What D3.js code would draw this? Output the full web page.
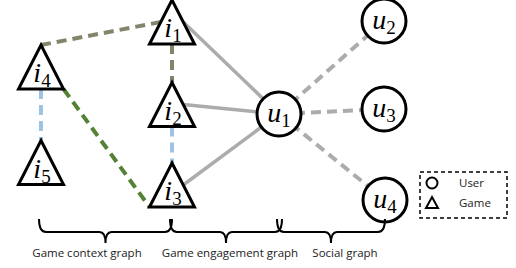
<!DOCTYPE html>
<html>
<head>
<meta charset="utf-8">
<script src="https://cdn.jsdelivr.net/npm/d3@7"></script>
<style>
  html, body { margin: 0; padding: 0; background: #fff; }
  svg { display: block; }
</style>
</head>
<body>
<svg id="chart" width="516" height="268"></svg>
<script>
// nodes of the graph
const nodeIds   = ['i1', 'i2', 'i3', 'i4', 'i5', 'u1', 'u2', 'u3', 'u4'];
const nodeKinds = ['game', 'game', 'game', 'game', 'game', 'user', 'user', 'user', 'user'];
const nodeX     = [172, 172, 172, 41, 41, 279, 384, 384, 385];
const nodeY     = [22, 104.5, 185, 67, 162.5, 114, 21, 109, 200];

// edges: from, to, anchor on each end, kind
const edgeFrom  = ['i4', 'i1', 'i4', 'i2', 'i4', 'i1', 'i2', 'i3', 'u1', 'u1', 'u1'];
const edgeTo    = ['i1', 'i2', 'i5', 'i3', 'i3', 'u1', 'u1', 'u1', 'u2', 'u3', 'u4'];
const edgeFromAt = ['apex', 'base', 'base', 'base', 'baseRight', 'right', 'right', 'right', 'center', 'center', 'center'];
const edgeToAt   = ['left', 'apex', 'apex', 'apex', 'baseLeft', 'center', 'center', 'center', 'center', 'center', 'center'];
const edgeKinds = ['context', 'context', 'similar', 'similar', 'related', 'play', 'play', 'play', 'friend', 'friend', 'friend'];

// braces under the graph
const braceFrom  = ['i4', 'i3', 'u1'];
const braceTo    = ['i3', 'u1', 'u4'];
const braceLabels = ['Game context graph', 'Game engagement graph', 'Social graph'];
const braceLabelX = [87, 230, 345];

const legendLabels = ['User', 'Game'];
const legendKinds = ['user', 'game'];

const width = 516, height = 268;
const x = d3.scaleLinear().domain([0, 516]).range([0, width]);
const y = d3.scaleLinear().domain([0, 268]).range([0, height]);

const edgeStyle = {
  context: { color: '#84846a', dash: '10,6', w: 4 },
  similar: { color: '#9dc3e6', dash: '10,6', w: 4 },
  related: { color: '#548235', dash: '10,6', w: 4 },
  play:    { color: '#acacac', dash: null, w: 3.5 },
  friend:  { color: '#acacac', dash: '10,6', w: 4 }
};

const triW = 45, triH = 44, circR = 22;

const nodes = nodeIds.map((id, i) => ({ id, kind: nodeKinds[i], cx: x(nodeX[i]), cy: y(nodeY[i]) }));
const byId = new Map(nodes.map(n => [n.id, n]));

function anchor(n, at) {
  const top = n.cy - triH / 2, bot = n.cy + triH / 2;
  switch (at) {
    case 'apex': return [n.cx, top];
    case 'base': return [n.cx, bot];
    case 'baseLeft': return [n.cx - triW / 2, bot];
    case 'baseRight': return [n.cx + triW / 2, bot];
    case 'left': return [n.cx - triW / 4, n.cy];
    case 'right': return [n.cx + triW / 4, n.cy];
    default: return [n.cx, n.cy];
  }
}

const svg = d3.select('#chart');

// edges
const edges = edgeFrom.map((f, i) => ({
  a: anchor(byId.get(f), edgeFromAt[i]),
  b: anchor(byId.get(edgeTo[i]), edgeToAt[i]),
  kind: edgeKinds[i]
}));

svg.append('g')
  .selectAll('line')
  .data(edges)
  .enter()
  .append('line')
  .attr('x1', d => d.a[0]).attr('y1', d => d.a[1])
  .attr('x2', d => d.b[0]).attr('y2', d => d.b[1])
  .attr('stroke', d => edgeStyle[d.kind].color)
  .attr('stroke-width', d => edgeStyle[d.kind].w)
  .attr('stroke-dasharray', d => edgeStyle[d.kind].dash);

function triPath(cx, cy, w, h) {
  return `M${cx},${cy - h / 2}L${cx + w / 2},${cy + h / 2}L${cx - w / 2},${cy + h / 2}Z`;
}

// nodes
const g = svg.append('g')
  .selectAll('g')
  .data(nodes)
  .enter()
  .append('g');

g.filter(d => d.kind === 'game')
  .append('path')
  .attr('d', d => triPath(d.cx, d.cy, triW, triH))
  .attr('fill', '#fff')
  .attr('stroke', '#000')
  .attr('stroke-width', 3)
  .attr('stroke-linejoin', 'miter');

g.filter(d => d.kind === 'user')
  .append('circle')
  .attr('cx', d => d.cx).attr('cy', d => d.cy)
  .attr('r', circR)
  .attr('fill', '#fff')
  .attr('stroke', '#000')
  .attr('stroke-width', 3);

const label = g.append('text')
  .attr('x', d => d.cx + (d.kind === 'game' ? 1 : 0))
  .attr('y', d => d.kind === 'game' ? d.cy + triH / 2 - 7 : d.cy + 8)
  .attr('text-anchor', 'middle')
  .attr('font-family', '"Liberation Serif", "DejaVu Serif", serif')
  .attr('fill', '#000');

label.append('tspan')
  .attr('font-style', 'italic')
  .attr('font-size', 28)
  .text(d => d.id[0]);

label.append('tspan')
  .attr('font-size', 19)
  .attr('dy', 5)
  .text(d => d.id.slice(1));

// braces
function bracePath(x0, x1, yTop, yMid, yTip) {
  const tip = (x0 + x1) / 2;
  return `M${x0},${yTop}Q${x0},${yMid} ${x0 + 7},${yMid}` +
    `L${tip - 6},${yMid}Q${tip},${yMid} ${tip},${yTip}` +
    `Q${tip},${yMid} ${tip + 6},${yMid}` +
    `L${x1 - 7},${yMid}Q${x1},${yMid} ${x1},${yTop}`;
}

svg.append('g')
  .selectAll('path')
  .data(braceFrom)
  .enter()
  .append('path')
  .attr('d', (f, i) => bracePath(byId.get(f).cx - 2, byId.get(braceTo[i]).cx + (i === 1 ? 3 : 0), y(219), y(232), y(243)))
  .attr('fill', 'none')
  .attr('stroke', '#000')
  .attr('stroke-width', 2);

svg.append('g')
  .selectAll('text')
  .data(braceLabels)
  .enter()
  .append('text')
  .attr('x', (d, i) => x(braceLabelX[i]))
  .attr('y', y(257))
  .attr('text-anchor', 'middle')
  .attr('font-family', '"Open Sans", "Noto Sans", sans-serif')
  .attr('font-size', 11.5)
  .attr('fill', '#222')
  .text(d => d);

// legend
const legend = svg.append('g');
legend.append('rect')
  .attr('x', x(420)).attr('y', y(172))
  .attr('width', 87).attr('height', 46)
  .attr('fill', 'none')
  .attr('stroke', '#000')
  .attr('stroke-width', 1.5)
  .attr('stroke-dasharray', '4,3');

const li = legend.selectAll('g')
  .data(legendLabels)
  .enter()
  .append('g')
  .attr('transform', (d, i) => `translate(${x(432)},${y(183 + i * 19.5)})`);

li.filter((d, i) => legendKinds[i] === 'user')
  .append('circle')
  .attr('r', 5.5)
  .attr('fill', 'none')
  .attr('stroke', '#000')
  .attr('stroke-width', 2);

li.filter((d, i) => legendKinds[i] === 'game')
  .append('path')
  .attr('d', triPath(0, 0, 12, 11))
  .attr('fill', 'none')
  .attr('stroke', '#000')
  .attr('stroke-width', 2);

li.append('text')
  .attr('x', 27)
  .attr('y', 4)
  .attr('font-family', '"Open Sans", "Noto Sans", sans-serif')
  .attr('font-size', 11.5)
  .attr('fill', '#222')
  .text(d => d);
</script>
</body>
</html>
